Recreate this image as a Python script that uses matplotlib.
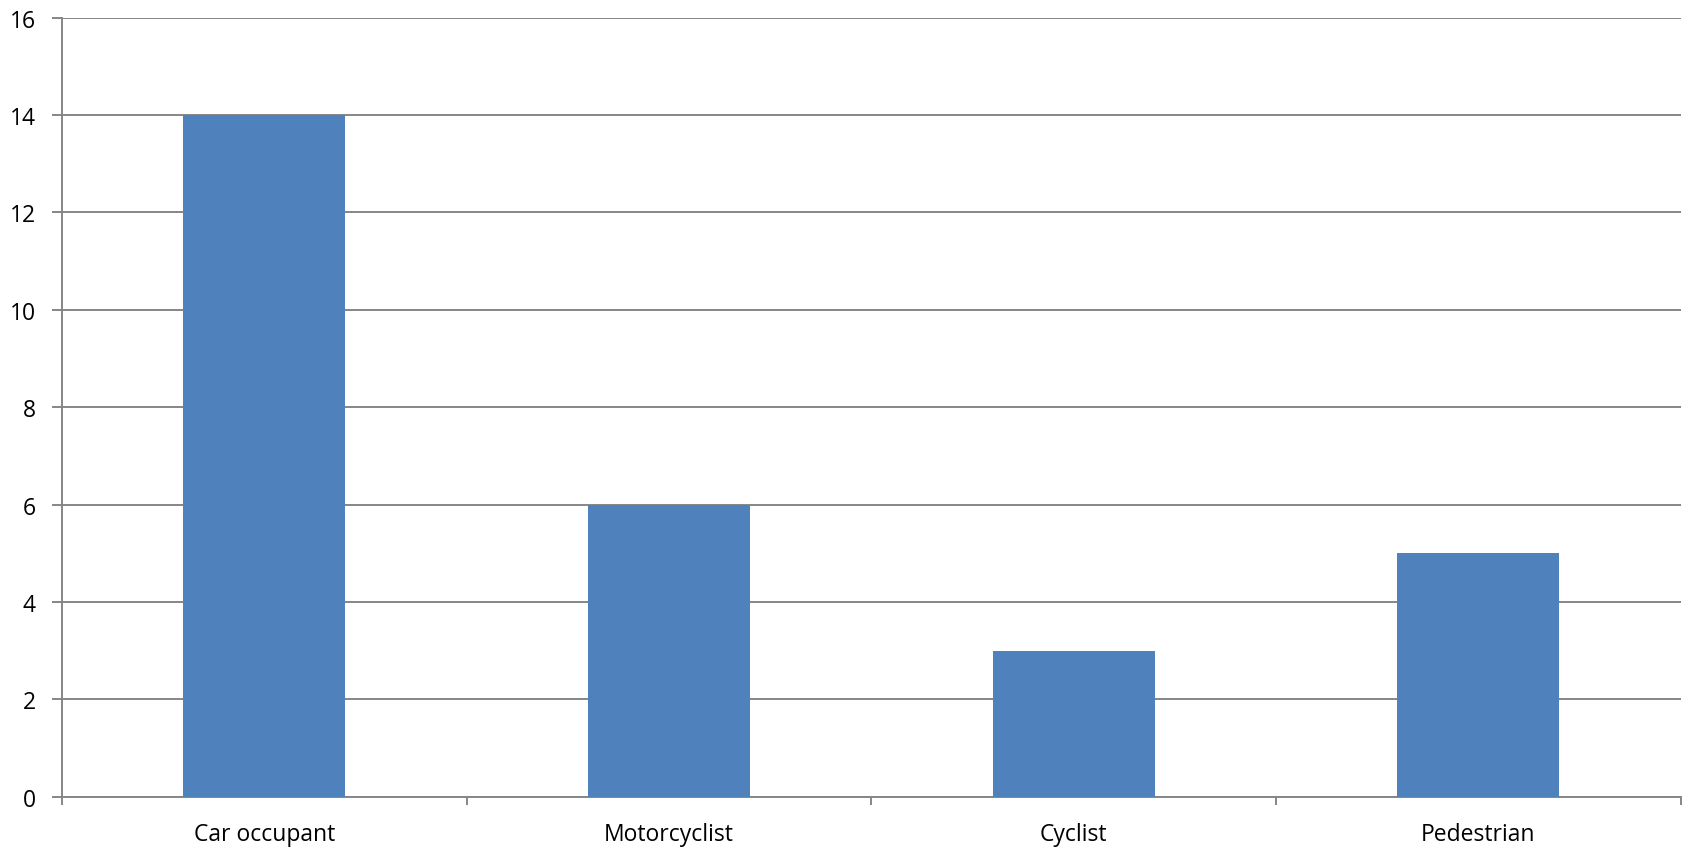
import matplotlib
matplotlib.use("Agg")
import matplotlib.pyplot as plt
import numpy as np

categories = ["Car occupant", "Motorcyclist", "Cyclist", "Pedestrian"]
values = [14, 6, 3, 5]
yticks = [0, 2, 4, 6, 8, 10, 12, 14, 16]

plt.rcParams["font.family"] = ["Open Sans", "DejaVu Sans"]

fig = plt.figure(figsize=(16.96, 8.53), dpi=100)
ax = fig.add_axes([62 / 1696, 1 - 797.7 / 853, (1680.7 - 62) / 1696, (797.7 - 18.7) / 853])

grid_col = "#868686"
x = np.arange(len(categories))
ax.bar(x, values, width=0.4, color="#4F81BD", zorder=3)

ax.set_xlim(-0.5, len(categories) - 0.5)
ax.set_ylim(0, 16)
ax.set_yticks(yticks)
ax.set_yticklabels([str(v) for v in yticks], fontsize=16.5)
ax.yaxis.grid(True, color=grid_col, linewidth=1.4, zorder=0)
ax.set_axisbelow(True)

# category labels centred under bars, ticks at category boundaries
ax.set_xticks(x)
ax.set_xticklabels(categories, fontsize=16.5)
ax.tick_params(axis="x", length=0, pad=18)
ax.set_xticks(np.arange(len(categories) + 1) - 0.5, minor=True)
ax.tick_params(axis="x", which="minor", length=6, width=1.4, color=grid_col)
ax.tick_params(axis="y", length=7, width=1.4, color=grid_col, pad=12)

for s in ["top", "right"]:
    ax.spines[s].set_visible(False)
for s in ["left", "bottom"]:
    ax.spines[s].set_color(grid_col)
    ax.spines[s].set_linewidth(1.4)

fig.savefig("out.png", dpi=100)
